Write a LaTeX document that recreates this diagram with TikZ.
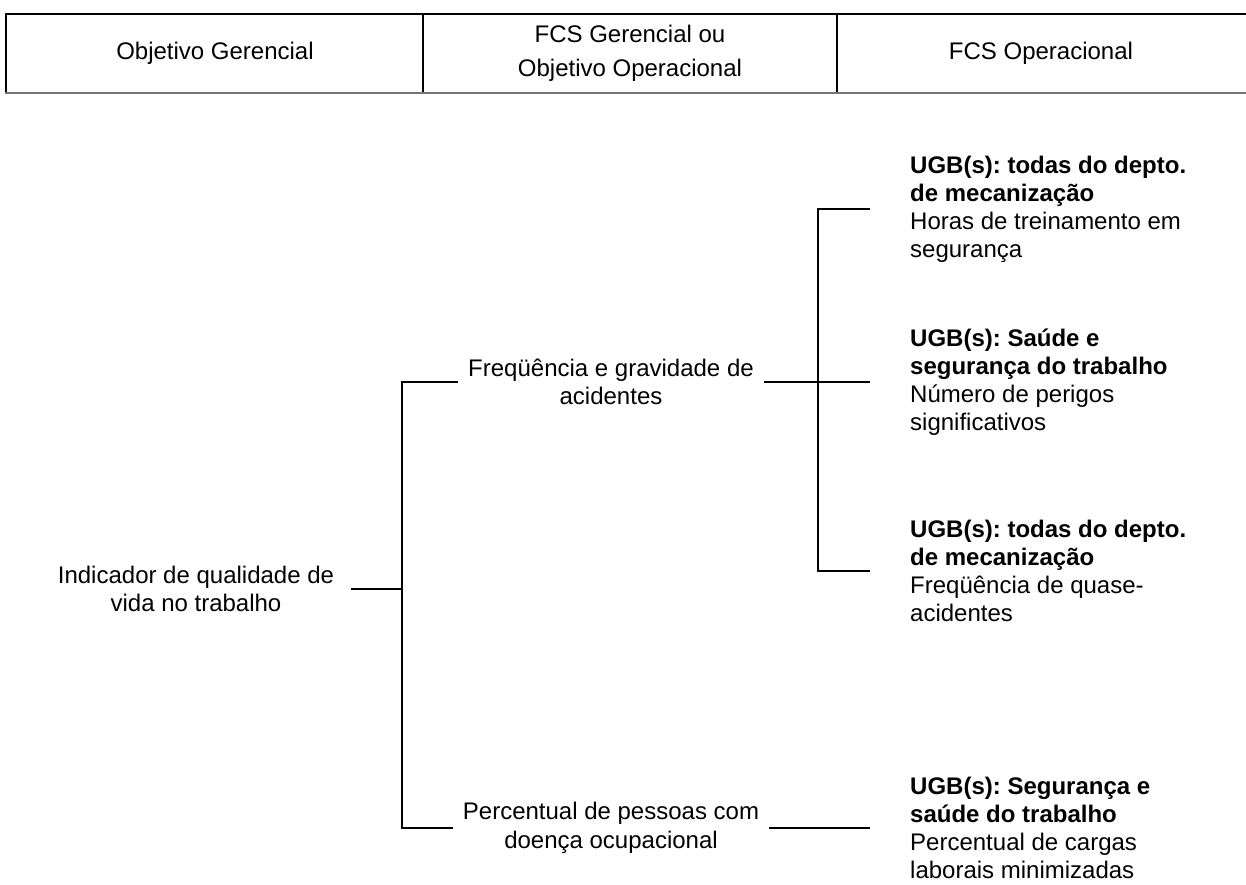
\documentclass[tikz,border=0pt]{standalone}
\usepackage{fontspec}
\setmainfont{Liberation Sans}
\usetikzlibrary{positioning}
\frenchspacing

\begin{document}
\begin{tikzpicture}[x=1pt, y=-1pt,
  every node/.style={font=\fontsize{24}{28.5}\selectfont},
  head/.style={align=center, font=\fontsize{24}{34}\selectfont},
  item/.style={align=center, inner xsep=10pt},
  opfcs/.style={align=left, anchor=west, inner xsep=40pt, font=\fontsize{24}{28}\selectfont},
  link/.style={line width=1.3pt},
  rule/.style={line width=1.2pt}]

\useasboundingbox (0,0) rectangle (1246,884);

% Header of the table
\draw[rule] (6,93) -- (6,14) -- (1246,14);
\draw[rule] (423,14) -- (423,93);
\draw[rule] (837,14) -- (837,93);
\draw[line width=2.5pt, black!55] (5,93) -- (1246,93);
\node[head] (h1) at (215,53) {Objetivo Gerencial};
\node[head] (h2) at (630,53) {FCS Gerencial ou\\Objetivo Operacional};
\node[head] (h3) at (1041,53) {FCS Operacional};

% Tree
\node[item, inner xsep=17pt] (root) at (196,589) {Indicador de qualidade de\\vida no trabalho};
\node[item] (freq) at (611,382) {Freqüência e gravidade de\\acidentes};
\node[item] (perc) at (611,828) {Percentual de pessoas com\\doença ocupacional};

\node[opfcs] (o1) at (870,209) {\textbf{UGB(s): todas do depto.}\\\textbf{de mecanização}\\Horas de treinamento em\\segurança};
\node[opfcs] (o2) at (870,382) {\textbf{UGB(s): Saúde e}\\\textbf{segurança do trabalho}\\Número de perigos\\significativos};
\node[opfcs] (o3) at (870,571) {\textbf{UGB(s): todas do depto.}\\\textbf{de mecanização}\\Freqüência de quase-\\acidentes};
\node[opfcs] (o4) at (870,828) {\textbf{UGB(s): Segurança e}\\\textbf{saúde do trabalho}\\Percentual de cargas\\laborais minimizadas};

% Connectors
\coordinate (j1) at (402,589);
\coordinate (j2) at (818,382);
\draw[link] (root.east) -- (j1);
\draw[link] (j1) |- (freq.west);
\draw[link] (j1) |- (perc.west);
\draw[link] (freq.east) -- (j2);
\draw[link] (j2) |- (o1.west);
\draw[link] (j2) -- (o2.west);
\draw[link] (j2) |- (o3.west);
\draw[link] (perc.east) -- (o4.west);

\end{tikzpicture}
\end{document}
